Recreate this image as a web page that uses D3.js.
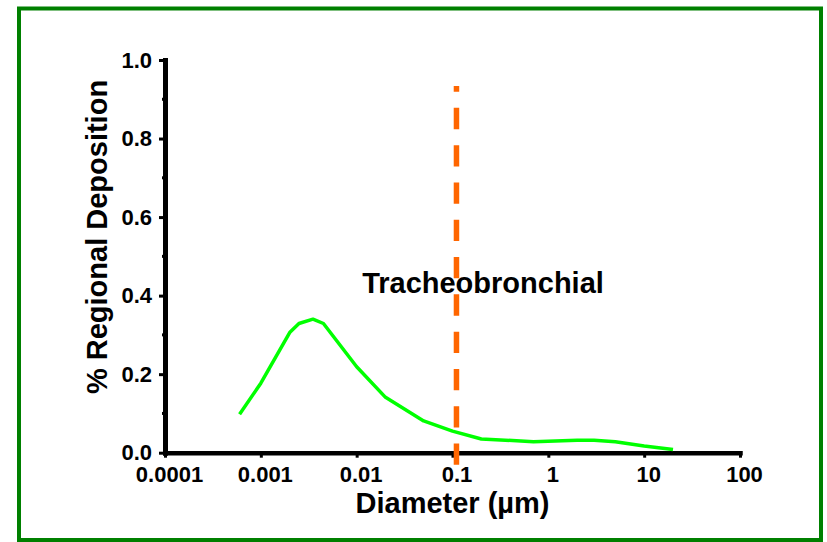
<!DOCTYPE html>
<html>
	<head>
		<meta charset="utf-8">
		<script src="https://cdnjs.cloudflare.com/ajax/libs/d3/7.8.5/d3.min.js" charset="utf-8"></script>
		<style>
			body {
				margin: 0;
				background: #fff;
				font-family: 'Liberation Sans', Arial, sans-serif;
				font-weight: bold;
			}
			.axis text {
				font-family: 'Liberation Sans', Arial, sans-serif;
				font-weight: bold;
				font-size: 22px;
				fill: #000;
			}
		</style>
	</head>
	<body>

		<div id="chart"></div>

		<script>

			//////////////////////////////// Data //////////////////////////////
			var diameters  = [0.0006, 0.001, 0.002, 0.0025, 0.0035, 0.0045, 0.01, 0.02, 0.05, 0.1, 0.2, 0.7, 2, 3, 5, 10, 20];
			var deposition = [0.098, 0.177, 0.306, 0.329, 0.340, 0.329, 0.219, 0.141, 0.081, 0.055, 0.035, 0.028, 0.032, 0.032, 0.028, 0.017, 0.008];
			var xTicks = [0.0001, 0.001, 0.01, 0.1, 1, 10, 100];
			var xTickLabels = ["0.0001", "0.001", "0.01", "0.1", "1", "10", "100"];
			var yTicks = [0, 0.2, 0.4, 0.6, 0.8, 1.0];
			var yMinorTicks = [0.1, 0.3, 0.5, 0.7, 0.9];
			var boundary = 0.11;       // dashed marker position (µm)
			var boundarySpan = [-0.031, 0.934];
			var regionLabel = "Tracheobronchial";

			var W = 827, H = 542;
			var svg = d3.select("#chart").append("svg")
				.attr("width", W)
				.attr("height", H);

			//green frame
			svg.append("rect")
				.attr("x", 19).attr("y", 8.5)
				.attr("width", 802).attr("height", 531.5)
				.style("fill", "none")
				.style("stroke", "#008000")
				.style("stroke-width", 4);

			var x = d3.scaleLog().domain([0.0001, 100]).range([165, 740]);
			var y = d3.scaleLinear().domain([0, 1]).range([452.7, 60]);

			//x axis
			var xAxis = svg.append("g")
				.attr("class", "axis")
				.attr("transform", "translate(0," + y(0) + ")")
				.call(d3.axisBottom(x)
					.tickValues(xTicks)
					.tickFormat(function(d, i) { return xTickLabels[i]; })
					.tickSize(5).tickSizeOuter(0).tickPadding(9));
			xAxis.selectAll("text").attr("dx", 4);

			//y axis
			var yAxis = svg.append("g")
				.attr("class", "axis")
				.attr("transform", "translate(" + x(0.0001) + ",0)")
				.call(d3.axisLeft(y)
					.tickValues(yTicks)
					.tickFormat(d3.format(".1f"))
					.tickSize(6).tickSizeOuter(0).tickPadding(7));

			yAxis.selectAll(".minor")
				.data(yMinorTicks)
				.enter().append("line")
				.attr("class", "minor")
				.attr("x1", -3).attr("x2", 0)
				.attr("y1", function(d) { return y(d); })
				.attr("y2", function(d) { return y(d); })
				.style("stroke", "#000")
				.style("stroke-width", 3);

			svg.selectAll(".axis path.domain")
				.style("stroke", "#000")
				.style("stroke-width", 4.5)
				.style("stroke-linecap", "square");
			yAxis.select("path.domain").style("stroke-width", 5);
			svg.selectAll(".axis .tick line")
				.style("stroke", "#000")
				.style("stroke-width", 3);

			//curve
			var line = d3.line()
				.x(function(d) { return x(d[0]); })
				.y(function(d) { return y(d[1]); });

			svg.append("path")
				.datum(diameters.map(function(d, i) { return [d, deposition[i]]; }))
				.attr("d", line)
				.style("fill", "none")
				.style("stroke", "#00FF00")
				.style("stroke-width", 3.5)
				.style("stroke-linejoin", "round");

			//dashed boundary, drawn bottom-up so dashes start at the axis
			svg.append("line")
				.attr("x1", x(boundary)).attr("x2", x(boundary))
				.attr("y1", y(boundarySpan[0])).attr("y2", y(boundarySpan[1]))
				.style("stroke", "#FF6600")
				.style("stroke-width", 5.5)
				.style("stroke-dasharray", "21.3 16");

			svg.append("text")
				.attr("x", 483).attr("y", 293)
				.attr("text-anchor", "middle")
				.style("font-size", "29px")
				.text(regionLabel);

			//axis titles
			svg.append("text")
				.attr("x", 452.5).attr("y", 513)
				.attr("text-anchor", "middle")
				.style("font-size", "29px")
				.text("Diameter (µm)");

			svg.append("text")
				.attr("transform", "translate(107,237) rotate(-90)")
				.attr("text-anchor", "middle")
				.style("font-size", "29px")
				.text("% Regional Deposition");

		</script>

	</body>
</html>
